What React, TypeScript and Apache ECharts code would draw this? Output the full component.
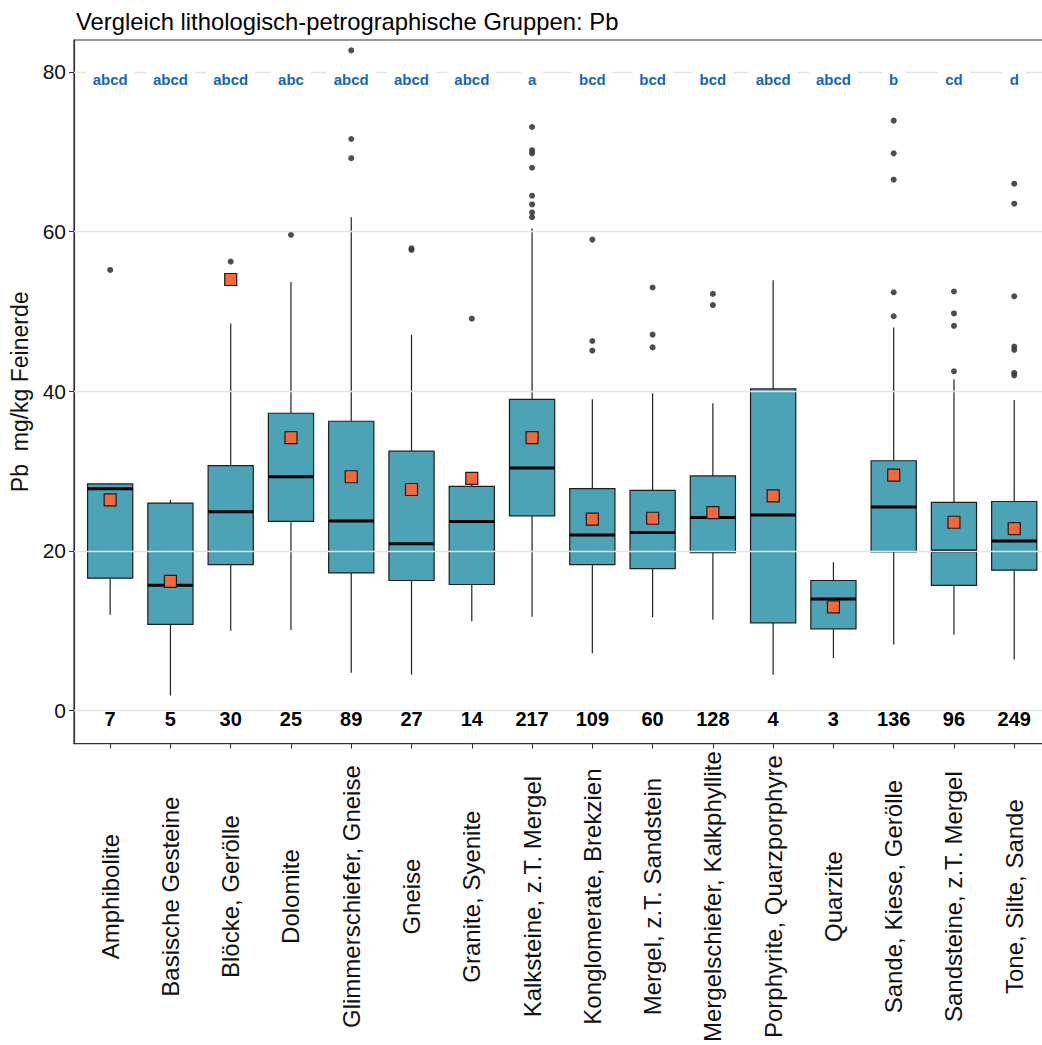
import React, { useEffect, useRef } from "react";
import * as echarts from "echarts";

const categories = [
  "Amphibolite",
  "Basische Gesteine",
  "Blöcke, Gerölle",
  "Dolomite",
  "Glimmerschiefer, Gneise",
  "Gneise",
  "Granite, Syenite",
  "Kalksteine, z.T. Mergel",
  "Konglomerate, Brekzien",
  "Mergel, z.T. Sandstein",
  "Mergelschiefer, Kalkphyllite",
  "Porphyrite, Quarzporphyre",
  "Quarzite",
  "Sande, Kiese, Gerölle",
  "Sandsteine, z.T. Mergel",
  "Tone, Silte, Sande",
];

const whiskerLow = [12.0, 1.9, 10.0, 10.1, 4.75, 4.5, 11.2, 11.75, 7.2, 11.7, 11.4, 4.5, 6.6, 8.3, 9.5, 6.4];
const q1 = [16.6, 10.8, 18.3, 23.7, 17.25, 16.3, 15.8, 24.4, 18.3, 17.8, 19.8, 11.0, 10.25, 19.9, 15.7, 17.6];
const medians = [27.8, 15.7, 24.9, 29.3, 23.75, 20.9, 23.7, 30.4, 22.0, 22.3, 24.2, 24.5, 14.0, 25.5, 20.0, 21.25];
const q3 = [28.4, 26.0, 30.7, 37.25, 36.25, 32.5, 28.1, 39.0, 27.8, 27.6, 29.4, 40.3, 16.3, 31.3, 26.1, 26.2];
const whiskerHigh = [28.5, 26.4, 48.5, 53.7, 61.8, 47.1, 28.4, 60.4, 39.0, 39.75, 38.5, 53.9, 18.6, 48.0, 41.5, 38.9];
const means = [26.4, 16.2, 54.0, 34.2, 29.3, 27.7, 29.1, 34.2, 24.0, 24.1, 24.8, 26.9, 13.0, 29.5, 23.6, 22.8];
const counts = [7, 5, 30, 25, 89, 27, 14, 217, 109, 60, 128, 4, 3, 136, 96, 249];
const letters = ["abcd", "abcd", "abcd", "abc", "abcd", "abcd", "abcd", "a", "bcd", "bcd", "bcd", "abcd", "abcd", "b", "cd", "d"];
const outliers: number[][] = [
  [55.2],
  [],
  [56.25],
  [59.6],
  [82.7, 71.6, 69.2],
  [57.7, 57.9],
  [49.1],
  [73.1, 70.2, 69.8, 68.0, 64.5, 63.4, 62.4, 61.8],
  [59.0, 46.3, 45.1],
  [53.0, 47.1, 45.5],
  [52.2, 50.8],
  [],
  [],
  [73.9, 69.8, 66.5, 52.4, 49.4],
  [52.5, 49.75, 48.2, 42.5],
  [66.0, 63.5, 51.9, 45.6, 45.2, 42.3, 42.0],
];
const yTicks = [0, 20, 40, 60, 80];

const FONT = "'Liberation Sans', Arial, Helvetica, sans-serif";

export default function App() {
  const ref = useRef<HTMLDivElement>(null);
  useEffect(() => {
    if (!ref.current) return;
    const chart = echarts.init(ref.current, null, { renderer: "svg" });

    const xIdx = categories.map((_, i) => i);
    const boxData = categories.map((_, i) => [i, whiskerLow[i], q1[i], medians[i], q3[i], whiskerHigh[i]]);
    const meanData = categories.map((_, i) => [i, means[i]]);
    const outlierData: number[][] = [];
    outliers.forEach((arr, i) => arr.forEach((v) => outlierData.push([i, v])));
    const letterData = categories.map((_, i) => [i, 79.1]);
    const countData = categories.map((_, i) => [i, -1.0]);

    const option: any = {
      animation: false,
      backgroundColor: "#ffffff",
      textStyle: { fontFamily: FONT },
      title: {
        text: "Vergleich lithologisch-petrographische Gruppen: Pb",
        left: 71,
        top: 4,
        textStyle: { fontFamily: FONT, fontSize: 23.8, fontWeight: "normal", color: "#000" },
      },
      grid: {
        left: 74,
        right: 0.6,
        top: 40,
        bottom: 300,
        show: true,
        borderColor: "#333",
        borderWidth: 1.2,
        backgroundColor: "transparent",
      },
      xAxis: {
        type: "value",
        min: -0.6,
        max: 15.6,
        axisLine: { show: true, onZero: false, lineStyle: { color: "#333", width: 1.2 } },
        axisTick: { show: true, length: 5, customValues: xIdx, lineStyle: { color: "#333" } },
        axisLabel: {
          customValues: xIdx,
          formatter: (v: number) => categories[Math.round(v)] ?? "",
          rotate: 90,
          align: "center",
          verticalAlign: "middle",
          margin: 153,
          fontSize: 24,
          color: "#111",
          fontFamily: FONT,
        },
        splitLine: { show: false },
      },
      yAxis: {
        type: "value",
        min: -4.125,
        max: 84,
        name: "Pb  mg/kg Feinerde",
        nameLocation: "middle",
        nameGap: 43,
        nameTextStyle: { fontSize: 23, color: "#111", fontFamily: FONT },
        axisLine: { show: true, onZero: false, lineStyle: { color: "#333", width: 1.2 } },
        axisTick: { show: true, length: 5, customValues: yTicks, lineStyle: { color: "#333" } },
        axisLabel: { fontSize: 21, color: "#111", margin: 8, customValues: yTicks, fontFamily: FONT },
        splitLine: { show: false },
      },
      series: [
        {
          type: "line",
          data: [],
          z: 1,
          silent: true,
          markLine: {
            silent: true,
            symbol: "none",
            label: { show: false },
            lineStyle: { color: "#e3e3e3", width: 1.3, type: "solid" },
            data: yTicks.map((v) => ({ yAxis: v })),
          },
        },
        {
          type: "custom",
          z: 2,
          data: boxData,
          encode: { x: 0, y: [1, 2, 3, 4, 5] },
          renderItem: (params: any, api: any) => {
            const i = api.value(0);
            const pLo = api.coord([i, api.value(1)]);
            const pQ1 = api.coord([i, api.value(2)]);
            const pMed = api.coord([i, api.value(3)]);
            const pQ3 = api.coord([i, api.value(4)]);
            const pHi = api.coord([i, api.value(5)]);
            const bw = api.size([1, 0])[0] * 0.75;
            const x = pMed[0];
            return {
              type: "group",
              children: [
                { type: "line", shape: { x1: x, y1: pLo[1], x2: x, y2: pQ1[1] }, style: { stroke: "#222", lineWidth: 1.2 } },
                { type: "line", shape: { x1: x, y1: pQ3[1], x2: x, y2: pHi[1] }, style: { stroke: "#222", lineWidth: 1.2 } },
                {
                  type: "rect",
                  shape: { x: x - bw / 2, y: pQ3[1], width: bw, height: pQ1[1] - pQ3[1] },
                  style: { fill: "#4CA3B5", stroke: "#1e1e1e", lineWidth: 1.2 },
                },
                {
                  type: "line",
                  shape: { x1: x - bw / 2, y1: pMed[1], x2: x + bw / 2, y2: pMed[1] },
                  style: { stroke: "#000", lineWidth: 3 },
                },
              ],
            };
          },
        },
        {
          type: "scatter",
          z: 3,
          data: outlierData,
          symbol: "circle",
          symbolSize: 6,
          itemStyle: { color: "#3a3a3a", opacity: 0.9 },
          silent: true,
        },
        {
          type: "scatter",
          z: 4,
          data: meanData,
          symbol: "rect",
          symbolSize: 12,
          itemStyle: { color: "#F4683A", borderColor: "#1a1a1a", borderWidth: 1.2, opacity: 1 },
          silent: true,
        },
        {
          type: "custom",
          z: 5,
          data: letterData,
          encode: { x: 0, y: 1 },
          renderItem: (params: any, api: any) => {
            const i = api.value(0);
            const p = api.coord([i, api.value(1)]);
            return {
              type: "text",
              x: p[0],
              y: p[1],
              style: {
                text: letters[params.dataIndex],
                fill: "#1565b8",
                font: `bold 15px ${FONT}`,
                align: "center",
                verticalAlign: "middle",
                backgroundColor: "#ffffff",
                padding: [4, 7],
              },
            };
          },
        },
        {
          type: "custom",
          z: 5,
          data: countData,
          encode: { x: 0, y: 1 },
          renderItem: (params: any, api: any) => {
            const i = api.value(0);
            const p = api.coord([i, api.value(1)]);
            return {
              type: "text",
              x: p[0],
              y: p[1],
              style: {
                text: String(counts[params.dataIndex]),
                fill: "#000",
                font: `bold 20px ${FONT}`,
                align: "center",
                verticalAlign: "middle",
              },
            };
          },
        },
      ],
    };
    chart.setOption(option);
    return () => chart.dispose();
  }, []);

  return (
    <div
      style={{ position: "fixed", left: 0, top: 0, width: 1042, height: 1045, overflow: "hidden", background: "#fff" }}
    >
      <div ref={ref} style={{ position: "absolute", left: 0, top: 0, width: 1051, height: 1045 }} />
    </div>
  );
}
